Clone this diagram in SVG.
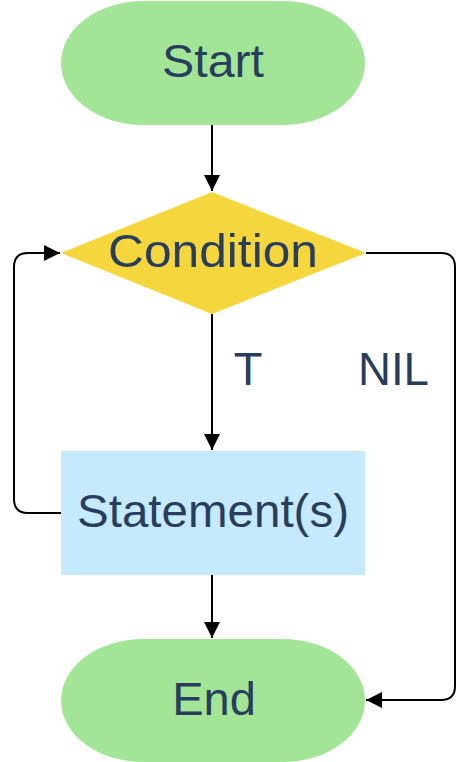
<svg xmlns="http://www.w3.org/2000/svg" width="472" height="762" viewBox="0 0 472 762">
<defs>
<style>
.lbl{font-family:"Liberation Sans",Arial,sans-serif;font-size:47px;fill:#283e5c}
.mid{text-anchor:middle}
.edge{fill:none;stroke:#000;stroke-width:2}
.term{fill:#a2e596}
</style>
<marker id="ah2" markerWidth="16" markerHeight="16" refX="16" refY="8" orient="auto" markerUnits="userSpaceOnUse" viewBox="0 0 16 16">
<path d="M0,0 L16,8 L0,16 z" fill="#000"/>
</marker>
</defs>
<rect width="472" height="762" fill="#fff"/>
<g id="connectors">
<path class="edge" d="M212,125 V191" marker-end="url(#ah2)"/>
<path class="edge" d="M212,314 V450" marker-end="url(#ah2)"/>
<path class="edge" d="M212,575 V638" marker-end="url(#ah2)"/>
<path class="edge" d="M61,513 H28 Q14,513 14,499 V267 Q14,253 28,253 H60" marker-end="url(#ah2)"/>
<path class="edge" d="M366,253 H441 Q455,253 455,267 V686 Q455,700 441,700 H366" marker-end="url(#ah2)"/>
</g>
<g id="start">
<rect class="term" x="61" y="1" width="304" height="124" rx="82" ry="62"/>
<text class="lbl" x="162" y="77" textLength="102" lengthAdjust="spacingAndGlyphs">Start</text>
</g>
<g id="condition">
<polygon points="212,192 366,253 212,314 61,253" fill="#f5d73d"/>
<text class="lbl" x="108" y="267" textLength="210" lengthAdjust="spacingAndGlyphs">Condition</text>
</g>
<g id="statement">
<rect x="61" y="451" width="304" height="124" fill="#c5e9fd"/>
<text class="lbl" x="77" y="527" textLength="272" lengthAdjust="spacingAndGlyphs">Statement(s)</text>
</g>
<g id="end">
<rect class="term" x="61" y="639" width="304" height="123" rx="82" ry="62"/>
<text class="lbl mid" x="214" y="715">End</text>
</g>
<g id="edge-labels">
<text class="lbl mid" x="248" y="385">T</text>
<text class="lbl" x="358" y="385" textLength="71" lengthAdjust="spacingAndGlyphs">NIL</text>
</g>
</svg>
